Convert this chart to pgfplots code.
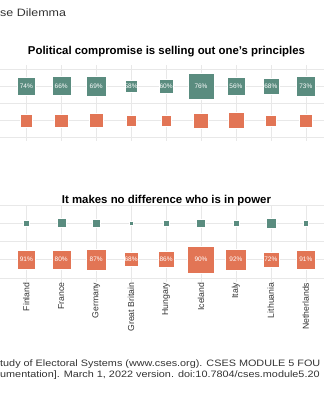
\documentclass[border=0pt]{standalone}
\usepackage{pgfplots}
\pgfplotsset{compat=1.18}
\usepackage{pgfplotstable}
\usepackage{fontspec}
\setmainfont{Liberation Sans}
\newfontfamily\capfont[FakeStretch=1.165]{Liberation Sans}
\definecolor{cgreen}{RGB}{90,140,127}
\definecolor{corange}{RGB}{226,117,85}
\definecolor{gridc}{RGB}{232,232,232}
\definecolor{txtc}{RGB}{51,51,51}
% top panel: agree (green, labelled) and disagree (orange)
\pgfplotstableread{
x s v
0 18 74
1 19 66
2 19.5 69
3 12.7 58
4 14 60
5 26 76
6 18.3 56
7 15.7 68
8 19.7 73
}\topgreen
\pgfplotstableread{
x s
-1 14
0 12.3
1 13.3
2 14
3 10.3
4 10.7
5 15
6 16
7 11
8 12.3
}\toporange
\pgfplotstableread{
x s
-1 6
0 6.3
1 9
2 7.3
3 4.7
4 5.3
5 8.7
6 6
7 10
8 5.7
}\botgreen
\pgfplotstableread{
x s v
0 18.7 91
1 19 80
2 20.7 87
3 14 68
4 16 86
5 26.7 90
6 20.7 92
7 15.7 72
8 19.7 91
}\botorange
\pgfplotsset{
  sq/.style={scatter, only marks, mark=square*,
    scatter/use mapped color={draw=white, fill=#1},
    visualization depends on={\thisrow{s}/2 \as \hs},
    scatter/@pre marker code/.append style={/tikz/mark size=\hs},
    mark options={line width=0.4pt}},
  lab/.style={only marks, mark=none, point meta=\thisrow{v},
    nodes near coords={\pgfmathprintnumber[fixed,precision=0,assume math mode=true]{\pgfplotspointmeta}\%},
    every node near coord/.style={anchor=center, inner sep=0pt, text=white,
      font=\fontsize{6.5}{7}\selectfont}},
  panel/.style={scale only axis, width=324pt,
    xmin=-0.7527, xmax=8.520,
    xtick={0,...,8}, ytick={-0.5,0,0.5,1,1.5}, yticklabels={},
    grid=major, grid style={gridc, line width=0.6pt},
    axis line style={draw=none}, tick style={draw=none}, major tick length=0pt}
}
\begin{document}
\begin{tikzpicture}[x=1pt,y=1pt]
\path[use as bounding box] (0,0) rectangle (324,400);
% top panel
\begin{axis}[panel, at={(0pt,258.8pt)}, anchor=south west, height=75.7pt,
  ymin=-0.6, ymax=1.6, xticklabels={}]
\addplot[sq=cgreen] table[x=x, y expr=1, row sep=\\]{x s\\ -1 19.4\\ -1 19.4\\};
\addplot[sq=cgreen] table[x=x, y expr=1] \topgreen;
\addplot[lab] table[x=x, y expr=1] \topgreen;
\addplot[sq=corange] table[x=x, y expr=0] \toporange;
\end{axis}
% bottom panel
\begin{axis}[panel, at={(0pt,118.5pt)}, anchor=south west, height=76.65pt,
  ymin=-0.6, ymax=1.5,
  xticklabels={Finland, France, Germany, Great Britain, Hungary, Iceland, Italy, Lithuania, Netherlands},
  xticklabel style={rotate=90, anchor=east, inner sep=1pt, text=txtc,
    font=\fontsize{8.7}{10}\selectfont}]
\addplot[sq=cgreen] table[x=x, y expr=1] \botgreen;
\addplot[sq=corange] table[x=x, y expr=0, row sep=\\]{x s\\ -1 21\\ -1 21\\};
\addplot[sq=corange] table[x=x, y expr=0] \botorange;
\addplot[lab] table[x=x, y expr=0] \botorange;
\end{axis}
% texts
\node[anchor=base west, inner sep=0pt, text=txtc, font=\capfont\fontsize{10.7}{12}\selectfont] at (0,383.7) {se Dilemma};
\node[anchor=base, inner sep=0pt, font=\bfseries\fontsize{11.4}{13}\selectfont] at (166.5,345.5) {Political compromise is selling out one's principles};
\node[anchor=base, inner sep=0pt, font=\bfseries\fontsize{11.4}{13}\selectfont] at (166.5,196.7) {It makes no difference who is in power};
\node[anchor=base west, inner sep=0pt, text=txtc, font=\capfont\fontsize{9.3}{11}\selectfont] at (0,33.5) {tudy of Electoral Systems (www.cses.org). CSES MODULE 5 FOU};
\node[anchor=base west, inner sep=0pt, text=txtc, font=\capfont\fontsize{9.3}{11}\selectfont] at (0,22.5) {umentation]. March 1, 2022 version. doi:10.7804/cses.module5.20};
\end{tikzpicture}
\end{document}
